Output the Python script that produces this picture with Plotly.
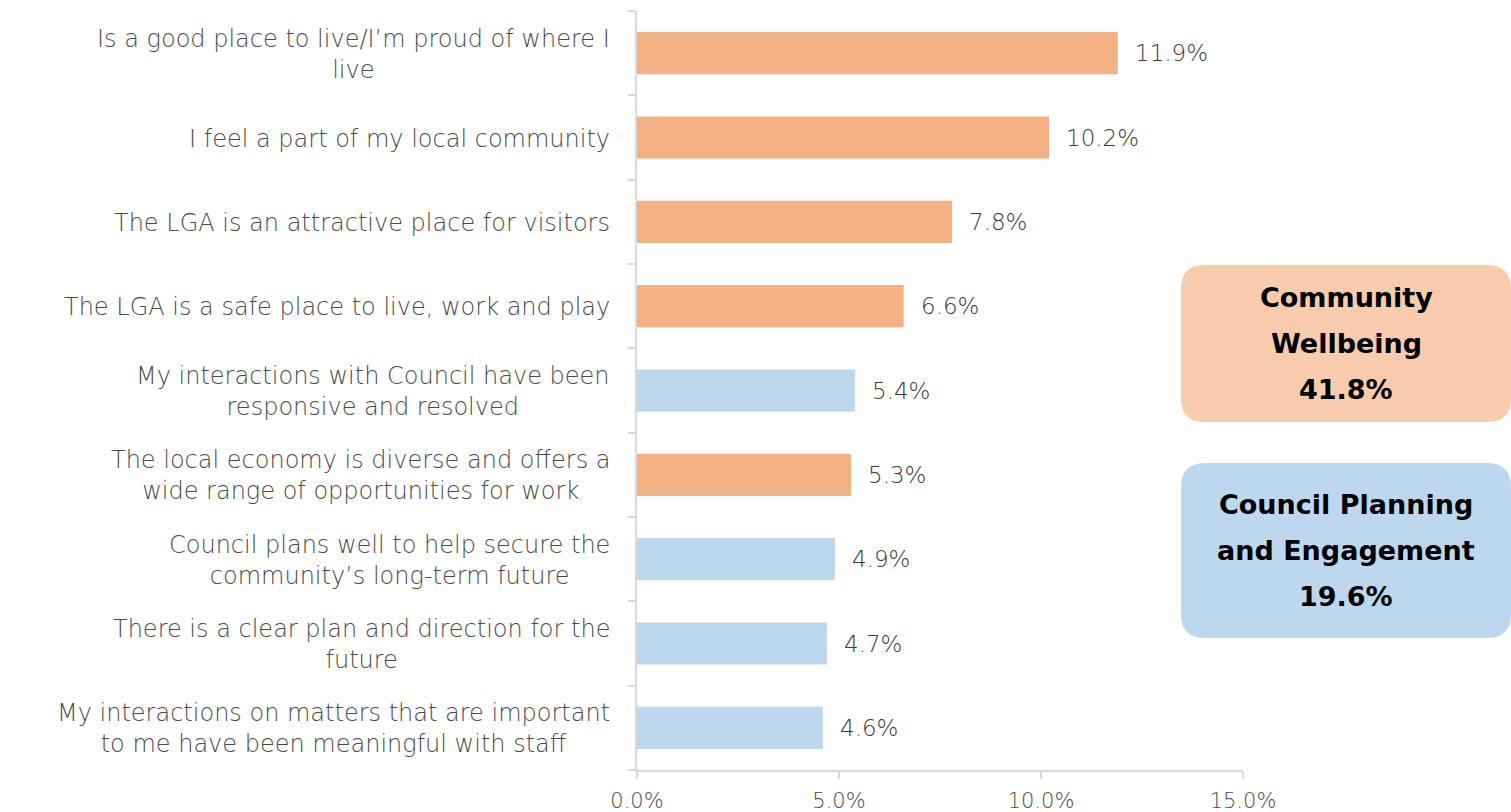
import plotly.graph_objects as go

# Survey responses: share of mentions per statement (%)
statements = [
    "Is a good place to live/I’m proud of where I<br>live",
    "I feel a part of my local community",
    "The LGA is an attractive place for visitors",
    "The LGA is a safe place to live, work and play",
    "My interactions with Council have been<br>responsive and resolved",
    "The local economy is diverse and offers a<br>wide range of opportunities for work",
    "Council plans well to help secure the<br>community’s long-term future",
    "There is a clear plan and direction for the<br>future",
    "My interactions on matters that are important<br>to me have been meaningful with staff",
]
shares = [11.9, 10.2, 7.8, 6.6, 5.4, 5.3, 4.9, 4.7, 4.6]
themes = ["CW", "CW", "CW", "CW", "CPE", "CW", "CPE", "CPE", "CPE"]

theme_names = {"CW": ["Community", "Wellbeing"], "CPE": ["Council Planning", "and Engagement"]}
bar_colors = {"CW": "#F4B183", "CPE": "#BDD7EE"}
box_colors = {"CW": "#F8CBAD", "CPE": "#BDD7EE"}

x_ticks = [0, 5, 10, 15]
x_tick_labels = ["0.0%", "5.0%", "10.0%", "15.0%"]

FONT = "DejaVu Sans"
W, H = 1511, 812
ML, MR, MT, MB = 637, 268, 11, 42
PW, PH = W - ML - MR, H - MT - MB

fig = go.Figure(go.Bar(
    x=shares,
    y=statements,
    orientation="h",
    marker=dict(color=[bar_colors[t] for t in themes], line=dict(width=0)),
    width=0.5,
    hoverinfo="skip",
))

annotations = []
# Category labels: multi-line text block, lines centred, block right-aligned
for s in statements:
    annotations.append(dict(
        x=0, xref="paper", y=s, yref="y", text=s, showarrow=False,
        xanchor="right", yanchor="middle", align="center", xshift=-25,
        yshift=-1,
        font=dict(family=FONT, size=24, color="#4a4a4a", weight=300),
    ))

# Value labels at the bar ends
for s, v in zip(statements, shares):
    annotations.append(dict(
        x=v, xref="x", y=s, yref="y", text=f"{v:.1f}%", showarrow=False,
        xanchor="left", yanchor="middle", xshift=15,
        font=dict(family=FONT, size=23, color="#3a3a3a", weight=300),
    ))


def px_x(p):
    return (p - ML) / PW


def px_y(p):
    return (H - MB - p) / PH


def rounded_box(x0, y0, x1, y1, r):
    # Rounded rectangle path, given in pixels, converted to paper coordinates
    def P(x, y):
        return f"{px_x(x):.5f},{px_y(y):.5f}"
    return " ".join([
        f"M {P(x0 + r, y0)}",
        f"L {P(x1 - r, y0)}",
        f"Q {P(x1, y0)} {P(x1, y0 + r)}",
        f"L {P(x1, y1 - r)}",
        f"Q {P(x1, y1)} {P(x1 - r, y1)}",
        f"L {P(x0 + r, y1)}",
        f"Q {P(x0, y1)} {P(x0, y1 - r)}",
        f"L {P(x0, y0 + r)}",
        f"Q {P(x0, y0)} {P(x0 + r, y0)} Z",
    ])


totals = {t: round(sum(v for v, th in zip(shares, themes) if th == t), 1) for t in ("CW", "CPE")}
boxes = {"CW": (1181, 265, 1511, 422), "CPE": (1181, 463, 1511, 638)}

shapes = []
for t, (x0, y0, x1, y1) in boxes.items():
    shapes.append(dict(
        type="path", xref="paper", yref="paper",
        path=rounded_box(x0, y0, x1, y1, 24),
        fillcolor=box_colors[t], line=dict(width=0), layer="below",
    ))
    lines = theme_names[t] + [f"{totals[t]:.1f}%"]
    cy = (y0 + y1) / 2
    for i, ln in enumerate(lines):
        yy = cy + (i - 1) * 46
        annotations.append(dict(
            x=px_x((x0 + x1) / 2), xref="paper", y=px_y(yy), yref="paper",
            text=f"<b>{ln}</b>", showarrow=False, xanchor="center", yanchor="middle",
            font=dict(family=FONT, size=27, color="#000000"),
        ))

fig.update_layout(
    width=W, height=H,
    margin=dict(l=ML, r=MR, t=MT, b=MB, pad=0, autoexpand=False),
    paper_bgcolor="white", plot_bgcolor="white",
    showlegend=False,
    bargap=0.5,
    font=dict(family=FONT, color="#595959"),
    annotations=annotations,
    shapes=shapes,
    xaxis=dict(
        range=[0, 15], tickvals=x_ticks, ticktext=x_tick_labels,
        showgrid=False, zeroline=False,
        showline=True, linecolor="#D9D9D9", linewidth=2,
        ticks="outside", ticklen=7, tickwidth=2, tickcolor="#D9D9D9",
        ticklabelstandoff=4, automargin=False,
        tickfont=dict(family=FONT, size=21, color="#4a4a4a", weight=300),
        fixedrange=True,
    ),
    yaxis=dict(
        categoryorder="array", categoryarray=statements[::-1],
        showticklabels=False, showgrid=False, zeroline=False,
        showline=True, linecolor="#D9D9D9", linewidth=2,
        ticks="outside", ticklen=7, tickwidth=2, tickcolor="#D9D9D9",
        tickson="boundaries", automargin=False,
        fixedrange=True,
    ),
)

fig.write_html("out.html", config={"displayModeBar": False})
